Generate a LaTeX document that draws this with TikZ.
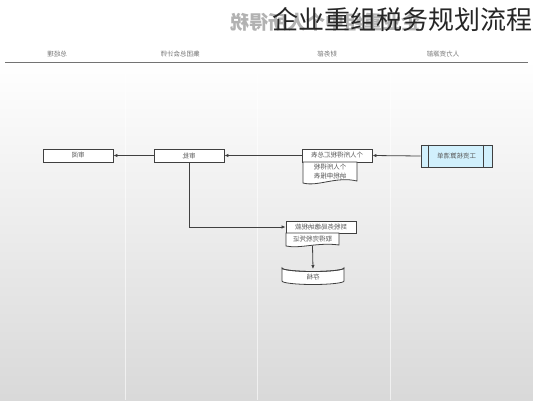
\documentclass[tikz,border=0pt]{standalone}
\usepackage{fontspec}
\setmainfont{Noto Sans CJK SC}
\usetikzlibrary{arrows.meta}
\begin{document}
\begin{tikzpicture}[x=1pt,y=-1pt,
  box/.style={draw=black!75, line width=0.9pt, fill=white, minimum width=70pt, minimum height=13pt, inner sep=0pt, font=\fontsize{6.5}{7}\selectfont, text=black!65},
  docnode/.style={inner sep=0pt, font=\fontsize{6.5}{7.5}\selectfont, text=black!65},
  docline/.style={draw=black!75, line width=0.8pt, fill=white},
  lane/.style={font=\fontsize{6.5}{7}\selectfont, text=black!55},
  conn/.style={draw=black!75, line width=0.8pt},
  arr/.style={conn, -{Latex[length=4pt,width=3.5pt]}}
]
\useasboundingbox (0,0) rectangle (533,400);
\begin{scope}[y=1pt]
\shade[top color=white, bottom color=black!15] (0,-400) rectangle (533,-60);
\fill[white] (0,-60) rectangle (533,0);
\end{scope}
% ghost and title
\node[text=black!30, font=\bfseries\fontsize{19}{19}\selectfont] (ghost) at (325,22) {\reflectbox{企业重组中个人所得税}};
\node[text=black!85, font=\fontsize{26}{26}\selectfont] (title) at (402,20) {企业重组税务规划流程};
% lane headers
\node[lane] (l1) at (57,54) {\reflectbox{总经理}};
\node[lane] (l2) at (180,54) {\reflectbox{集团总会计师}};
\node[lane] (l3) at (327,54) {\reflectbox{财务部}};
\node[lane] (l4) at (443,54) {\reflectbox{人力资源部}};
\coordinate (hl) at (5,62);
\coordinate (hr) at (528,62);
\draw[black!55, line width=0.8pt] (hl) -- (hr);
\foreach \x in {125,257,390} {\draw[white, opacity=0.6, line width=0.6pt] (\x,63) -- (\x,400);}
% nodes
\node[box] (sy) at (78,155.5) {\reflectbox{审阅}};
\node[box] (sp) at (189,155.5) {\reflectbox{审批}};
\node[box] (hz) at (337,155.5) {\reflectbox{个人所得税汇总表}};
\draw[docline] (303,162) -- (303,183) .. controls (318,187) and (336,176) .. (357,181) -- (357,162) -- cycle;
\node[docnode] (sb) at (330,171.5) {\reflectbox{\shortstack{个人所得税\\纳税申报表}}};
\node[box, fill=cyan!18, minimum width=71pt, minimum height=22pt] (gz) at (456.5,156) {\reflectbox{工资核算清单}};
\draw[black!75, line width=0.8pt] ([xshift=8pt]gz.north west) -- ([xshift=8pt]gz.south west);
\draw[black!75, line width=0.8pt] ([xshift=-9pt]gz.north east) -- ([xshift=-9pt]gz.south east);
\node[box, minimum height=12pt] (jn) at (321,227) {\reflectbox{到税务局缴纳税款}};
\draw[docline] (286,233) -- (286,246) .. controls (300,249) and (318,242) .. (339,245) -- (339,233) -- cycle;
\node[docnode, minimum height=12pt] (pz) at (312.5,239.5) {\reflectbox{取得完税凭证}};
% cylinder
\draw[docline] (282,268) -- (282,281) arc[start angle=180, end angle=360, x radius=31pt, y radius=3.5pt] -- (344,268) arc[start angle=0, end angle=-180, x radius=31pt, y radius=3.5pt] -- cycle;
\draw[black!75, line width=0.8pt] (282,268) arc[start angle=180, end angle=360, x radius=31pt, y radius=3.5pt];
\node[docnode] (cd) at (313,277.5) {\reflectbox{存档}};
\coordinate (cdtop) at (313,269);
% connectors
\draw[arr] (gz.west) -- (hz.east);
\draw[arr] (hz.west) -- (sp.east);
\draw[arr] (sp.west) -- (sy.east);
\draw[arr] (sp.south) |- (jn.west);
\draw[arr] (pz.south) -- (cdtop);
\end{tikzpicture}
\end{document}
